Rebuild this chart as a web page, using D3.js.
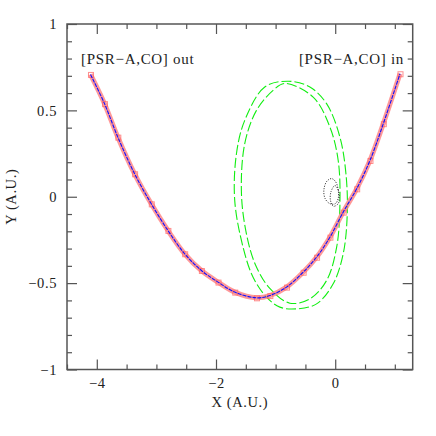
<!DOCTYPE html>
<html>
<head>
<meta charset="utf-8">
<script src="https://cdn.jsdelivr.net/npm/d3@7"></script>
<style>
body { margin: 0; background: #fff; }
text { font-family: "Liberation Serif", "DejaVu Serif", serif; fill: #222; }
</style>
</head>
<body>
<div id="main"></div>
<script>
// orbit of PSR-A (red markers, blue line)
var orbit = [
  [-4.106, 0.708], [-3.871, 0.539], [-3.647, 0.345], [-3.366, 0.133], [-3.086, -0.041],
  [-2.807, -0.195], [-2.526, -0.330], [-2.245, -0.427], [-1.966, -0.494], [-1.686, -0.552],
  [-1.321, -0.585], [-1.097, -0.572], [-0.817, -0.523], [-0.538, -0.437], [-0.313, -0.350],
  [-0.089, -0.234], [0.134, -0.089], [0.360, 0.046], [0.583, 0.210], [0.807, 0.423], [1.087, 0.712]
];
// green dashed rings
var ringOuter = [
  [-0.790, 0.669], [-1.182, 0.635], [-1.518, 0.442], [-1.657, 0.249], [-1.686, -0.021],
  [-1.546, -0.292], [-1.378, -0.466], [-1.153, -0.581], [-0.929, -0.639], [-0.649, -0.649],
  [-0.313, -0.620], [-0.034, -0.504], [0.134, -0.330], [0.202, -0.098], [0.180, 0.133],
  [0.079, 0.345], [-0.145, 0.539], [-0.425, 0.635]
];
var ringInner = [
  [-0.845, 0.656], [-1.042, 0.616], [-1.321, 0.500], [-1.518, 0.307], [-1.573, 0.017],
  [-1.484, -0.224], [-1.333, -0.398], [-1.097, -0.531], [-0.761, -0.616], [-0.425, -0.591],
  [-0.145, -0.485], [0.024, -0.292], [0.079, -0.041], [0.050, 0.210], [-0.089, 0.403], [-0.370, 0.577]
];
// black dotted loops
var loopOuter = [
  [-0.06, 0.105], [0.01, 0.085], [0.05, 0.04], [0.05, -0.01], [0.0, -0.04],
  [-0.09, -0.04], [-0.17, -0.01], [-0.19, 0.04], [-0.14, 0.09]
];
var loopInner = [
  [-0.005, 0.065], [0.05, 0.04], [0.07, -0.005], [0.05, -0.04], [-0.03, -0.055],
  [-0.08, -0.02], [-0.07, 0.03]
];
var xMajor = [-4, -2, 0];
var xMinor = [-4.5, -3.5, -3, -2.5, -1.5, -1, -0.5, 0.5, 1];
var yMajor = [-1, -0.5, 0, 0.5, 1];
var yMinor = [-0.9, -0.8, -0.7, -0.6, -0.4, -0.3, -0.2, -0.1, 0.1, 0.2, 0.3, 0.4, 0.6, 0.7, 0.8, 0.9];
var labels = ["[PSR\u2212A,CO] out", "[PSR\u2212A,CO] in"];

var W = 436, H = 436;
var margin = {top: 24, right: 23.3, bottom: 66.5, left: 67};

var svg = d3.select("#main").append("svg")
  .attr("width", W).attr("height", H);

var x = d3.scaleLinear().domain([-4.5, 1.3]).range([margin.left, W - margin.right]);
var y = d3.scaleLinear().domain([-1, 1]).range([H - margin.bottom, margin.top]);

var fmt = d => d3.format("")(d);

// axes, ticks pointing inward on all sides
function axes(g, axis, values, size, pad, label) {
  g.call(axis.tickValues(values).tickSizeInner(-size).tickSizeOuter(0).tickPadding(pad)
    .tickFormat(label ? fmt : ""));
  g.select(".domain").remove();
  g.selectAll("line").attr("stroke", "#555").attr("stroke-width", 1.2);
  g.selectAll("text").attr("font-size", 14.5).attr("letter-spacing", 0.6).attr("fill", "#222");
}
var gb = svg.append("g").attr("transform", "translate(0," + y(-1) + ")");
axes(gb, d3.axisBottom(x), xMajor, 10, 8, true);
axes(svg.append("g").attr("transform", "translate(0," + y(-1) + ")"), d3.axisBottom(x), xMinor, 5, 0, false);
axes(svg.append("g").attr("transform", "translate(0," + y(1) + ")"), d3.axisTop(x), xMajor, 10, 0, false);
axes(svg.append("g").attr("transform", "translate(0," + y(1) + ")"), d3.axisTop(x), xMinor, 5, 0, false);
axes(svg.append("g").attr("transform", "translate(" + x(-4.5) + ",0)"), d3.axisLeft(y), yMajor, 10, 10, true);
axes(svg.append("g").attr("transform", "translate(" + x(-4.5) + ",0)"), d3.axisLeft(y), yMinor, 5, 0, false);
axes(svg.append("g").attr("transform", "translate(" + x(1.3) + ",0)"), d3.axisRight(y), yMajor, 10, 0, false);
axes(svg.append("g").attr("transform", "translate(" + x(1.3) + ",0)"), d3.axisRight(y), yMinor, 5, 0, false);

svg.append("rect")
  .attr("x", x(-4.5)).attr("y", y(1))
  .attr("width", x(1.3) - x(-4.5)).attr("height", y(-1) - y(1))
  .attr("fill", "none").attr("stroke", "#555").attr("stroke-width", 1.5);

var line = d3.line().x(d => x(d[0])).y(d => y(d[1])).curve(d3.curveCatmullRom);
var loop = d3.line().x(d => x(d[0])).y(d => y(d[1])).curve(d3.curveCatmullRomClosed);

// green rings
svg.append("g").selectAll("path")
  .data([ringOuter, ringInner])
  .join("path")
    .attr("d", loop)
    .attr("fill", "none")
    .attr("stroke", "#11ee11")
    .attr("stroke-width", 1.1)
    .attr("stroke-dasharray", "10,3");

// black dotted loops
svg.append("g").selectAll("path")
  .data([loopOuter, loopInner])
  .join("path")
    .attr("d", loop)
    .attr("fill", "none")
    .attr("stroke", "#222")
    .attr("stroke-width", 1)
    .attr("stroke-dasharray", "1,1.5");

// red band + markers
svg.append("path")
  .datum(orbit)
  .attr("d", line)
  .attr("fill", "none")
  .attr("stroke", "#ff8080")
  .attr("stroke-opacity", 0.8)
  .attr("stroke-width", 5);

svg.append("g").selectAll("rect")
  .data(orbit)
  .join("rect")
    .attr("x", d => x(d[0]) - 2)
    .attr("y", d => y(d[1]) - 2)
    .attr("width", 5).attr("height", 5)
    .attr("fill", "none")
    .attr("stroke", "#ff6060")
    .attr("stroke-opacity", 0.7);

// blue line
svg.append("path")
  .datum(orbit)
  .attr("d", line)
  .attr("fill", "none")
  .attr("stroke", "#1010ff")
  .attr("stroke-width", 1.1)
  .attr("stroke-dasharray", "4,1");

// labels
svg.append("text")
  .attr("x", 81).attr("y", 64)
  .attr("font-size", 15)
  .attr("letter-spacing", 0.7)
  .text(labels[0]);
svg.append("text")
  .attr("x", 404).attr("y", 64)
  .attr("text-anchor", "end")
  .attr("font-size", 15)
  .attr("letter-spacing", 0.7)
  .text(labels[1]);

svg.append("text")
  .attr("x", (x(-4.5) + x(1.3)) / 2 + 0).attr("y", 407)
  .attr("text-anchor", "middle")
  .attr("font-size", 14.5)
  .attr("letter-spacing", 0.6)
  .text("X (A.U.)");
svg.append("text")
  .attr("transform", "translate(16," + y(0) + ") rotate(-90)")
  .attr("text-anchor", "middle")
  .attr("font-size", 14.5)
  .attr("letter-spacing", 0.6)
  .text("Y (A.U.)");
</script>
</body>
</html>
